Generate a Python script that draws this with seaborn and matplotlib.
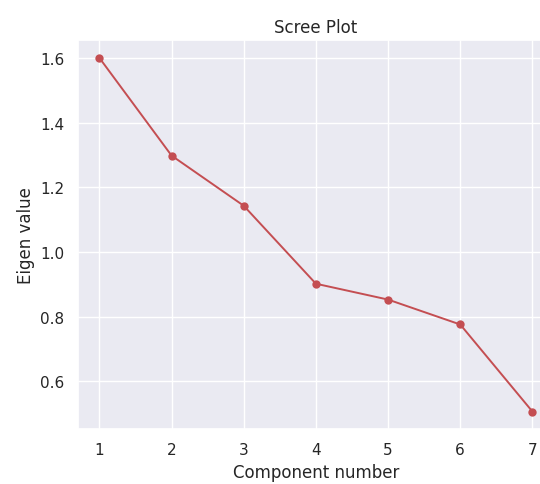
import numpy as np
import matplotlib
matplotlib.use('Agg')
import matplotlib.pyplot as plt
import seaborn as sns

components = [1, 2, 3, 4, 5, 6, 7]
eigenvalues = [1.600, 1.298, 1.143, 0.902, 0.853, 0.776, 0.507]

sns.set()
fig = plt.figure(figsize=(5.4, 4.85), dpi=100)
# axes run a little past the right edge, like the cropped original
ax = fig.add_axes([0.144, 0.113, 0.882, 0.802])
sns.lineplot(x=components, y=eigenvalues, marker='o', color='#C44E52',
             markersize=6, markeredgewidth=0, linewidth=1.4, ax=ax)
ax.set_xticks(components)
ax.set_title('Scree Plot')
ax.set_xlabel('Component number')
ax.set_ylabel('Eigen value')
plt.savefig('out.png', dpi=100)
